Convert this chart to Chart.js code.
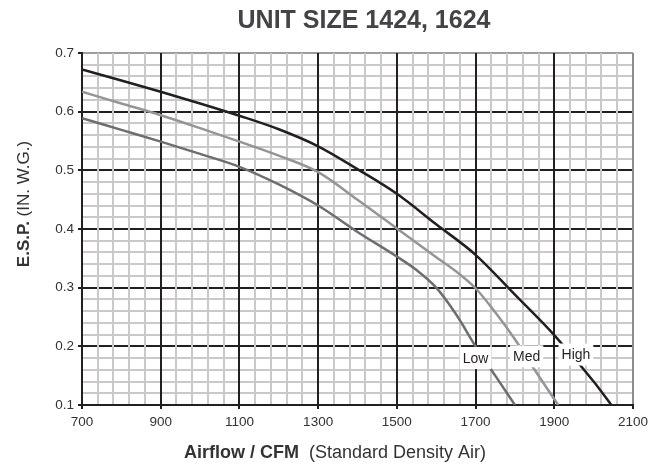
<!DOCTYPE html>
<html>
<head>
<meta charset="utf-8">
<script src="https://cdn.jsdelivr.net/npm/chart.js@4.4.1/dist/chart.umd.min.js"></script>
<style>
  html, body { margin: 0; padding: 0; background: #fff; }
  #wrap { width: 653px; height: 470px; position: relative; }
</style>
</head>
<body>
<div id="wrap"><canvas id="fanChart"></canvas></div>
<script>
// airflow (CFM) / external static pressure (in. w.g.)
const lowFlow  = [700, 800, 900, 1000, 1100, 1200, 1300, 1400, 1500, 1550, 1600, 1650, 1700, 1750, 1800];
const lowEsp   = [0.589, 0.569, 0.549, 0.528, 0.506, 0.476, 0.440, 0.395, 0.353, 0.330, 0.300, 0.255, 0.200, 0.150, 0.100];
const medFlow  = [700, 800, 900, 1000, 1100, 1200, 1300, 1400, 1500, 1600, 1650, 1700, 1750, 1800, 1850, 1910];
const medEsp   = [0.634, 0.614, 0.594, 0.572, 0.549, 0.525, 0.497, 0.450, 0.401, 0.352, 0.328, 0.299, 0.258, 0.212, 0.160, 0.100];
const highFlow = [700, 800, 900, 1000, 1100, 1200, 1300, 1400, 1500, 1600, 1700, 1800, 1900, 2000, 2045];
const highEsp  = [0.672, 0.653, 0.634, 0.614, 0.593, 0.570, 0.541, 0.502, 0.460, 0.408, 0.356, 0.288, 0.219, 0.140, 0.100];

const xTicks = [700, 900, 1100, 1300, 1500, 1700, 1900, 2100];
const yTicks = [0.1, 0.2, 0.3, 0.4, 0.5, 0.6, 0.7];
const speedNames = ['Low', 'Med', 'High'];

const FONT = "'Liberation Sans', Arial, sans-serif";
const INK = '#231f20';
const MINOR = '#c9c9c9';

function toPoints(xs, ys) {
    return xs.map((x, i) => ({ x: x, y: ys[i] }));
}
function isMajorX(v) { return xTicks.some(t => Math.abs(t - v) < 0.5); }
function isMajorY(v) { return yTicks.some(t => Math.abs(t - v) < 1e-6); }

// speed labels sit on white boxes over the curves near the bottom
const speedLabels = {
    id: 'speedLabels',
    afterDatasetsDraw(chart) {
        const ctx = chart.ctx;
        const xs = chart.scales.x, ys = chart.scales.y;
        const spots = [[1700, 0.180], [1830, 0.183], [1955, 0.186]];
        ctx.save();
        ctx.font = '14px ' + FONT;
        ctx.textAlign = 'center';
        ctx.textBaseline = 'middle';
        speedNames.forEach((name, i) => {
            const px = xs.getPixelForValue(spots[i][0]);
            const py = ys.getPixelForValue(spots[i][1]);
            const w = ctx.measureText(name).width + 6;
            ctx.fillStyle = '#fff';
            ctx.fillRect(px - w / 2, py - 11, w, 22);
            ctx.fillStyle = INK;
            ctx.fillText(name, px, py + 1);
        });
        ctx.restore();
    }
};

// title and axis titles (mixed bold / normal runs)
const chartText = {
    id: 'chartText',
    afterDraw(chart) {
        const ctx = chart.ctx;
        ctx.save();
        ctx.fillStyle = '#444446';
        ctx.textBaseline = 'middle';
        ctx.textAlign = 'center';
        ctx.font = 'bold 25px ' + FONT;
        ctx.fillText('UNIT SIZE 1424, 1624', 364, 21);

        const drawRuns = (runs, cx, cy) => {
            let total = 0;
            runs.forEach(r => { ctx.font = r[1]; total += ctx.measureText(r[0]).width; });
            let x = cx - total / 2;
            ctx.textAlign = 'left';
            runs.forEach(r => {
                ctx.font = r[1];
                ctx.fillText(r[0], x, cy);
                x += ctx.measureText(r[0]).width;
            });
        };
        ctx.fillStyle = '#333';
        drawRuns([['Airflow / CFM', 'bold 18px ' + FONT], ['  (Standard Density Air)', '18px ' + FONT]], 335, 453);

        ctx.save();
        ctx.translate(24, 204);
        ctx.rotate(-Math.PI / 2);
        drawRuns([['E.S.P.', 'bold 17px ' + FONT], [' (IN. W.G.)', '17px ' + FONT]], 0, 0);
        ctx.restore();
        ctx.restore();
    }
};

const lineStyle = { fill: false, pointRadius: 0, borderWidth: 2.5, cubicInterpolationMode: 'monotone' };

new Chart(document.getElementById('fanChart'), {
    type: 'line',
    data: {
        datasets: [
            Object.assign({ label: speedNames[0], data: toPoints(lowFlow, lowEsp), borderColor: '#6d6e71' }, lineStyle),
            Object.assign({ label: speedNames[1], data: toPoints(medFlow, medEsp), borderColor: '#939598' }, lineStyle),
            Object.assign({ label: speedNames[2], data: toPoints(highFlow, highEsp), borderColor: INK }, lineStyle)
        ]
    },
    options: {
        responsive: true,
        maintainAspectRatio: false,
        animation: false,
        layout: { padding: { top: 53, right: 19, left: 0, bottom: 0 } },
        plugins: {
            legend: { display: false },
            title: { display: false },
            tooltip: { enabled: false }
        },
        scales: {
            y: {
                type: 'linear',
                min: 0.1,
                max: 0.7,
                afterFit(scale) { scale.width = 82; },
                ticks: {
                    stepSize: 0.02,
                    autoSkip: false,
                    padding: 4,
                    color: '#333',
                    font: { family: FONT, size: 13.5 },
                    callback: v => isMajorY(v) ? v.toFixed(1) : ''
                },
                grid: {
                    z: -2,
                    lineWidth: 2,
                    tickLength: 4,
                    color: c => {
                        const v = c.tick.value;
                        if (Math.abs(v - 0.7) < 1e-6) return '#9d9d9d';
                        return isMajorY(v) ? INK : MINOR;
                    },
                    tickColor: c => isMajorY(c.tick.value) ? INK : 'rgba(0,0,0,0)'
                },
                border: { color: INK, width: 2 }
            },
            x: {
                type: 'linear',
                min: 700,
                max: 2100,
                afterFit(scale) { scale.height = 65; },
                ticks: {
                    stepSize: 40,
                    autoSkip: false,
                    maxRotation: 0,
                    padding: 5,
                    color: '#333',
                    font: { family: FONT, size: 13.5 },
                    callback: v => isMajorX(v) ? String(v) : ''
                },
                grid: {
                    z: -1,
                    lineWidth: 2,
                    tickLength: 4,
                    color: c => {
                        const v = c.tick.value;
                        if (Math.abs(v - 2100) < 0.5) return '#8c8c8c';
                        return isMajorX(v) ? INK : MINOR;
                    },
                    tickColor: c => isMajorX(c.tick.value) ? INK : 'rgba(0,0,0,0)'
                },
                border: { color: INK, width: 2 }
            }
        }
    },
    plugins: [speedLabels, chartText]
});
</script>
</body>
</html>
